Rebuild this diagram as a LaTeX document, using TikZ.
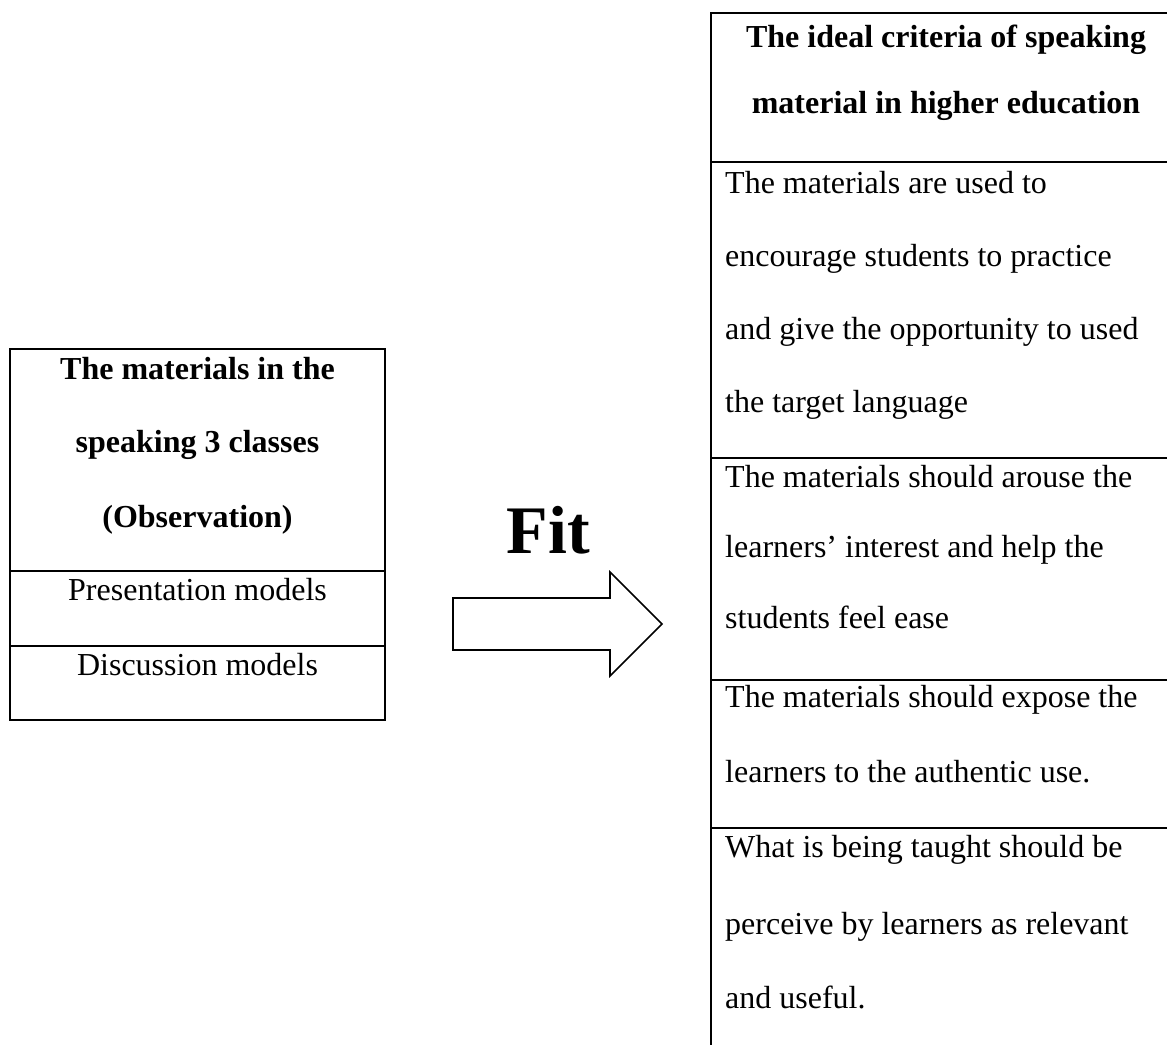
\documentclass[tikz,border=0pt]{standalone}
\usepackage{fontspec}
\setmainfont{Liberation Serif}
\begin{document}
\begin{tikzpicture}[x=1pt,y=-1pt,
  rule/.style={line width=2.3pt},
  arrowline/.style={line width=1.6pt, line join=miter},
  bodytxt/.style={font=\fontsize{32}{38}\selectfont, inner sep=0pt, anchor=base west},
  cbody/.style={font=\fontsize{32}{38}\selectfont, inner sep=0pt, anchor=base},
  headtxt/.style={font=\fontsize{32}{38}\selectfont\bfseries, inner sep=0pt, anchor=base},
  fittxt/.style={font=\fontsize{68}{80}\selectfont\bfseries, inner sep=0pt, anchor=base}]
\useasboundingbox (0,0) rectangle (1167,1044);

% ---------- left table ----------
\draw[rule] (10,349) rectangle (385,720);
\draw[rule] (10,571) -- (385,571);
\draw[rule] (10,646) -- (385,646);
\node[headtxt] (lh1) at (197.5,379) {The materials in the};
\node[headtxt] (lh2) at (197.5,452) {speaking 3 classes};
\node[headtxt] (lh3) at (197.5,527) {(Observation)};
\node[cbody] (lr1) at (197.5,600) {Presentation models};
\node[cbody] (lr2) at (197.5,675) {Discussion models};

% ---------- arrow and label ----------
\node[fittxt] (fit) at (548.5,553) {Fit};
\draw[arrowline] (453,598) -- (610,598) -- (610,572) -- (662,624) -- (610,676) -- (610,650) -- (453,650) -- cycle;

% ---------- right table ----------
\draw[rule] (1170,13) -- (711,13) -- (711,1046);
\draw[rule] (711,162) -- (1170,162);
\draw[rule] (711,458) -- (1170,458);
\draw[rule] (711,680) -- (1170,680);
\draw[rule] (711,828) -- (1170,828);

\node[headtxt] (rh1) at (946,47) {The ideal criteria of speaking};
\node[headtxt] (rh2) at (946,113) {material in higher education};

\node[bodytxt] (ra1) at (725,193) {The materials are used to};
\node[bodytxt] (ra2) at (725,266) {encourage students to practice};
\node[bodytxt] (ra3) at (725,339) {and give the opportunity to used};
\node[bodytxt] (ra4) at (725,412) {the target language};

\node[bodytxt] (rb1) at (725,487) {The materials should arouse the};
\node[bodytxt] (rb2) at (725,557) {learners’ interest and help the};
\node[bodytxt] (rb3) at (725,628) {students feel ease};

\node[bodytxt] (rc1) at (725,707) {The materials should expose the};
\node[bodytxt] (rc2) at (725,782) {learners to the authentic use.};

\node[bodytxt] (rd1) at (725,857) {What is being taught should be};
\node[bodytxt] (rd2) at (725,934) {perceive by learners as relevant};
\node[bodytxt] (rd3) at (725,1008) {and useful.};
\end{tikzpicture}
\end{document}
